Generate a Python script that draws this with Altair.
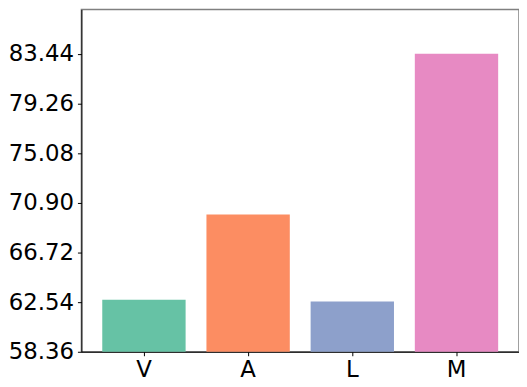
import altair as alt
import pandas as pd

categories = ["V", "A", "L", "M"]
values = [62.73, 69.91, 62.59, 83.44]
colors = ["#66c2a5", "#fc8d62", "#8da0cb", "#e78ac3"]
y_ticks = [58.36, 62.54, 66.72, 70.90, 75.08, 79.26, 83.44]
y_domain = [58.36, 87.17]

df = pd.DataFrame({"cat": categories, "val": values, "base": [y_ticks[0]] * len(categories)})

chart = alt.Chart(df).mark_bar().encode(
    x=alt.X("cat:N", sort=categories, title=None,
            scale=alt.Scale(paddingInner=0.2, paddingOuter=0.2),
            axis=alt.Axis(labelAngle=0, labelFontSize=23, labelFont="DejaVu Sans",
                          labelColor="#000000", tickColor="#000000", domainColor="#000000",
                          tickSize=4, labelPadding=3, grid=False)),
    y=alt.Y("val:Q", title=None,
            scale=alt.Scale(domain=y_domain, zero=False, nice=False),
            axis=alt.Axis(values=y_ticks, format=".2f", labelFontSize=23, labelFont="DejaVu Sans",
                          labelColor="#000000", tickColor="#000000", domainColor="#000000",
                          tickSize=4, labelPadding=4, grid=False)),
    y2="base:Q",
    color=alt.Color("cat:N", sort=categories,
                    scale=alt.Scale(domain=categories, range=colors), legend=None),
).properties(
    width=441, height=345,
    padding={"top": 0, "left": 0, "right": 0, "bottom": 0},
).configure_view(
    stroke="#808080", strokeWidth=1.5
)

chart.save("out.html", embed_options={"renderer": "svg", "actions": False})
